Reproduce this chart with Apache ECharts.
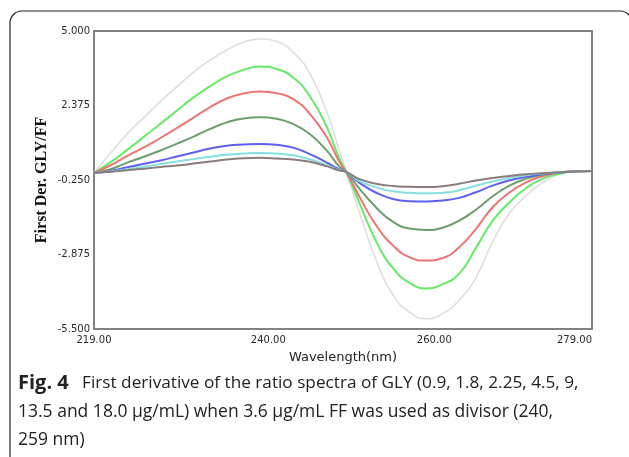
<!DOCTYPE html>
<html><head><meta charset="utf-8">
<script src="https://cdn.jsdelivr.net/npm/echarts@6/dist/echarts.min.js"></script>
<style>html,body{margin:0;padding:0;background:#fff;}#c{width:629px;height:457px;}</style>
</head><body><div id="c"></div>
<script>
// Wavelength (nm)
const wavelengths = [219, 221, 223, 225, 227, 229, 231, 233, 235, 237, 239, 241, 243, 245, 247, 248.5, 249.4, 251, 253, 255, 257, 259, 261, 263, 265, 267, 269, 271, 273, 275, 277, 279];
// First derivative values for each GLY concentration
const gly18 = [0.00, 0.70, 1.38, 1.95, 2.51, 3.04, 3.55, 3.98, 4.33, 4.60, 4.72, 4.63, 4.25, 3.50, 2.18, 0.85, 0.03, -1.40, -3.08, -4.29, -4.91, -5.14, -4.96, -4.48, -3.70, -2.45, -1.45, -0.82, -0.35, -0.05, 0.06, 0.07];
const gly135 = [0.00, 0.38, 0.81, 1.27, 1.73, 2.20, 2.66, 3.06, 3.40, 3.63, 3.75, 3.66, 3.36, 2.70, 1.65, 0.55, 0.03, -1.07, -2.42, -3.35, -3.87, -4.07, -3.92, -3.55, -2.65, -1.70, -1.05, -0.55, -0.21, -0.04, 0.06, 0.07];
const gly9 = [0.00, 0.27, 0.60, 0.90, 1.23, 1.58, 1.95, 2.32, 2.62, 2.80, 2.87, 2.81, 2.60, 2.08, 1.28, 0.42, 0.03, -0.85, -1.85, -2.55, -2.97, -3.09, -3.00, -2.62, -1.98, -1.22, -0.70, -0.34, -0.12, 0.01, 0.06, 0.07];
const gly45 = [0.00, 0.13, 0.36, 0.57, 0.79, 1.03, 1.28, 1.55, 1.78, 1.92, 1.96, 1.91, 1.72, 1.37, 0.80, 0.24, 0.03, -0.56, -1.22, -1.72, -1.96, -2.01, -1.93, -1.68, -1.30, -0.83, -0.46, -0.21, -0.06, 0.02, 0.06, 0.07];
const gly225 = [0.00, 0.07, 0.20, 0.32, 0.44, 0.58, 0.72, 0.86, 0.96, 1.00, 1.02, 0.99, 0.89, 0.66, 0.37, 0.13, 0.03, -0.35, -0.70, -0.92, -1.00, -1.01, -0.97, -0.88, -0.68, -0.45, -0.27, -0.14, -0.05, 0.01, 0.05, 0.07];
const gly18a = [0.00, 0.05, 0.13, 0.22, 0.31, 0.40, 0.49, 0.57, 0.64, 0.68, 0.70, 0.68, 0.62, 0.48, 0.28, 0.10, 0.03, -0.29, -0.51, -0.65, -0.70, -0.72, -0.70, -0.61, -0.45, -0.30, -0.18, -0.08, -0.02, 0.02, 0.05, 0.07];
const gly09 = [0.00, 0.04, 0.09, 0.15, 0.21, 0.26, 0.33, 0.40, 0.47, 0.52, 0.53, 0.51, 0.47, 0.39, 0.24, 0.09, 0.03, -0.22, -0.38, -0.46, -0.49, -0.50, -0.47, -0.38, -0.27, -0.18, -0.11, -0.05, -0.01, 0.02, 0.05, 0.07];
// Tick labels
const xTicks = [219, 240, 260, 279];
const yTicks = [-5.5, -2.875, -0.25, 2.375, 5];
const xTitle = 'Wavelength(nm)';
const yTitle = 'First Der. GLY/FF';
const captionBold = 'Fig. 4';
const captionLines = [
  'First derivative of the ratio spectra of GLY (0.9, 1.8, 2.25, 4.5, 9,',
  '13.5 and 18.0 μg/mL) when 3.6 μg/mL FF was used as divisor (240,',
  '259 nm)'
];

const seriesDefs = [
  {d: gly18, c: '#dedede', w: 1.6},
  {d: gly135, c: '#66ea66', w: 2},
  {d: gly9, c: '#f07474', w: 2},
  {d: gly45, c: '#6b9e6b', w: 2},
  {d: gly225, c: '#5f5ff2', w: 2},
  {d: gly18a, c: '#86e0e0', w: 2},
  {d: gly09, c: '#8c7b7b', w: 2}
];

const chart = echarts.init(document.getElementById('c'));
chart.setOption({
  animation: false,
  backgroundColor: '#fff',
  grid: {left: 94, top: 31, right: 37, bottom: 128, show: true, borderColor: '#828282', borderWidth: 2, backgroundColor: 'transparent'},
  xAxis: {
    type: 'value', min: 219, max: 279,
    name: xTitle, nameLocation: 'middle', nameGap: 22,
    nameTextStyle: {fontFamily: 'DejaVu Sans', fontSize: 13, color: '#222'},
    axisLine: {show: false}, axisTick: {show: false}, splitLine: {show: false},
    axisLabel: {customValues: xTicks, formatter: v => v.toFixed(2), fontFamily: 'DejaVu Sans', fontSize: 10, color: '#2a2a2a', margin: 6, alignMaxLabel: 'right'}
  },
  yAxis: {
    type: 'value', min: -5.5, max: 5,
    name: yTitle, nameLocation: 'middle', nameGap: 44, nameMoveOverlap: false,
    nameTextStyle: {fontFamily: 'Liberation Serif', fontWeight: 'bold', fontSize: 16, color: '#111'},
    axisLine: {show: false}, axisTick: {show: false}, splitLine: {show: false},
    axisLabel: {customValues: yTicks, formatter: v => v.toFixed(3), fontFamily: 'DejaVu Sans', fontSize: 10, color: '#2a2a2a', margin: 4}
  },
  series: seriesDefs.map(s => ({
    type: 'line', showSymbol: false, smooth: 0.5,
    data: wavelengths.map((x, i) => [x, s.d[i]]),
    lineStyle: {color: s.c, width: s.w}
  })),
  graphic: [
    {type: 'rect', shape: {x: 10, y: 11, width: 622, height: 470, r: [12, 12, 0, 0]}, style: {fill: 'none', stroke: '#222', lineWidth: 1.2}, z: 10},
    {type: 'text', left: 18, top: 373, style: {text: '{b|' + captionBold + '}   ' + captionLines[0], font: '17.2px "Open Sans"', fill: '#222', rich: {b: {fontWeight: 'bold', fontFamily: 'Open Sans', fontSize: 20, fill: '#222'}}}},
    {type: 'text', left: 18, top: 403, style: {text: captionLines[1], font: '17.5px "Open Sans"', fill: '#222'}},
    {type: 'text', left: 18, top: 431, style: {text: captionLines[2], font: '17.5px "Open Sans"', fill: '#222'}}
  ]
});
</script>
</body></html>
